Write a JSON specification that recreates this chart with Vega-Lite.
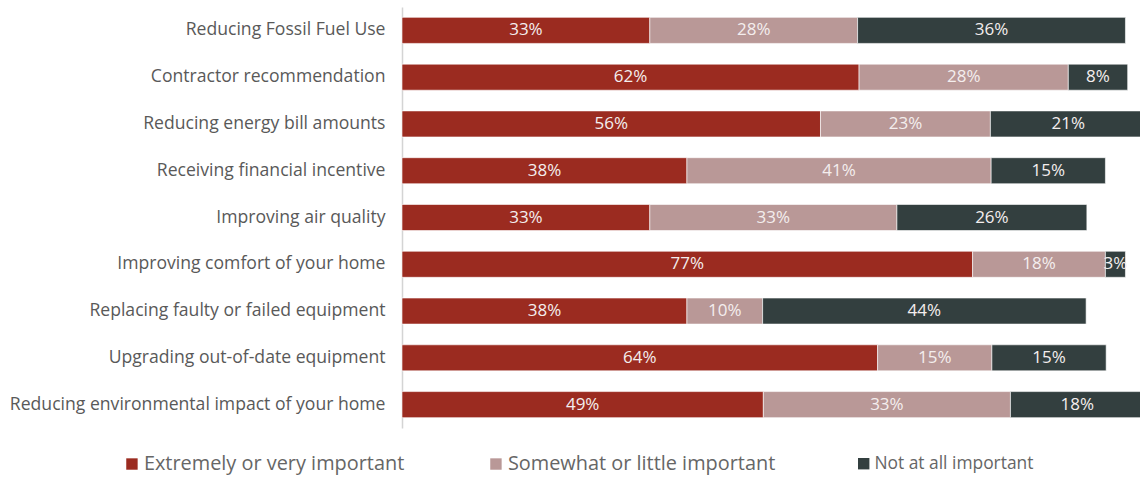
{
  "$schema": "https://vega.github.io/schema/vega-lite/v6.json",
  "autosize": {"type": "none"},
  "padding": {"left": 402, "top": 7, "right": 0, "bottom": 51},
  "width": 742,
  "height": 421,
  "config": {
    "font": "Open Sans",
    "view": {"stroke": null},
    "legend": {
      "title": null,
      "orient": "none",
      "direction": "horizontal",
      "symbolType": "square",
      "symbolSize": 130,
      "symbolStrokeWidth": 0,
      "labelColor": "#666666",
      "labelOffset": 2,
      "labelLimit": 400
    }
  },
  "data": {
    "values": [
      {"item": "Reducing Fossil Fuel Use", "level": "Extremely or very important", "rank": 1, "value": 0.334},
      {"item": "Reducing Fossil Fuel Use", "level": "Somewhat or little important", "rank": 2, "value": 0.280},
      {"item": "Reducing Fossil Fuel Use", "level": "Not at all important", "rank": 3, "value": 0.361},
      {"item": "Contractor recommendation", "level": "Extremely or very important", "rank": 1, "value": 0.616},
      {"item": "Contractor recommendation", "level": "Somewhat or little important", "rank": 2, "value": 0.282},
      {"item": "Contractor recommendation", "level": "Not at all important", "rank": 3, "value": 0.080},
      {"item": "Reducing energy bill amounts", "level": "Extremely or very important", "rank": 1, "value": 0.564},
      {"item": "Reducing energy bill amounts", "level": "Somewhat or little important", "rank": 2, "value": 0.229},
      {"item": "Reducing energy bill amounts", "level": "Not at all important", "rank": 3, "value": 0.210},
      {"item": "Receiving financial incentive", "level": "Extremely or very important", "rank": 1, "value": 0.384},
      {"item": "Receiving financial incentive", "level": "Somewhat or little important", "rank": 2, "value": 0.410},
      {"item": "Receiving financial incentive", "level": "Not at all important", "rank": 3, "value": 0.154},
      {"item": "Improving air quality", "level": "Extremely or very important", "rank": 1, "value": 0.334},
      {"item": "Improving air quality", "level": "Somewhat or little important", "rank": 2, "value": 0.333},
      {"item": "Improving air quality", "level": "Not at all important", "rank": 3, "value": 0.256},
      {"item": "Improving comfort of your home", "level": "Extremely or very important", "rank": 1, "value": 0.769},
      {"item": "Improving comfort of your home", "level": "Somewhat or little important", "rank": 2, "value": 0.179},
      {"item": "Improving comfort of your home", "level": "Not at all important", "rank": 3, "value": 0.027},
      {"item": "Replacing faulty or failed equipment", "level": "Extremely or very important", "rank": 1, "value": 0.384},
      {"item": "Replacing faulty or failed equipment", "level": "Somewhat or little important", "rank": 2, "value": 0.102},
      {"item": "Replacing faulty or failed equipment", "level": "Not at all important", "rank": 3, "value": 0.436},
      {"item": "Upgrading out-of-date equipment", "level": "Extremely or very important", "rank": 1, "value": 0.641},
      {"item": "Upgrading out-of-date equipment", "level": "Somewhat or little important", "rank": 2, "value": 0.154},
      {"item": "Upgrading out-of-date equipment", "level": "Not at all important", "rank": 3, "value": 0.154},
      {"item": "Reducing environmental impact of your home", "level": "Extremely or very important", "rank": 1, "value": 0.487},
      {"item": "Reducing environmental impact of your home", "level": "Somewhat or little important", "rank": 2, "value": 0.333},
      {"item": "Reducing environmental impact of your home", "level": "Not at all important", "rank": 3, "value": 0.180}
    ]
  },
  "transform": [
    {"stack": "value", "groupby": ["item"], "sort": [{"field": "rank", "order": "ascending"}], "as": ["v0", "v1"]}
  ],
  "encoding": {
    "y": {
      "field": "item",
      "type": "nominal",
      "sort": [
        "Reducing Fossil Fuel Use",
        "Contractor recommendation",
        "Reducing energy bill amounts",
        "Receiving financial incentive",
        "Improving air quality",
        "Improving comfort of your home",
        "Replacing faulty or failed equipment",
        "Upgrading out-of-date equipment",
        "Reducing environmental impact of your home"
      ],
      "scale": {"paddingInner": 0.443, "paddingOuter": 0.2215},
      "axis": {
        "title": null,
        "ticks": false,
        "domainColor": "#d4d4d4",
        "domainWidth": 1.5,
        "labelPadding": 17,
        "labelFontSize": 17.6,
        "labelColor": "#595959",
        "labelLimit": 500
      }
    },
    "x": {
      "field": "v0",
      "type": "quantitative",
      "scale": {"domain": [0, 1], "nice": false},
      "axis": null
    }
  },
  "layer": [
    {
      "transform": [{"filter": "datum.rank < 3"}],
      "mark": {"type": "bar", "stroke": "#ffffff", "strokeWidth": 0.6},
      "encoding": {
        "x2": {"field": "v1"},
        "color": {
          "field": "level",
          "type": "nominal",
          "scale": {
            "domain": ["Extremely or very important", "Somewhat or little important"],
            "range": ["#9b2b20", "#b99897"]
          },
          "legend": {
            "columns": 2,
            "legendX": -280,
            "legendY": 447,
            "labelFontSize": 19.9,
            "columnPadding": 81
          }
        }
      }
    },
    {
      "transform": [{"filter": "datum.rank == 3"}],
      "mark": {"type": "bar", "stroke": "#ffffff", "strokeWidth": 0.6},
      "encoding": {
        "x2": {"field": "v1"},
        "fill": {
          "field": "level",
          "type": "nominal",
          "scale": {
            "domain": ["Not at all important"],
            "range": ["#333f3f"]
          },
          "legend": {
            "columns": 1,
            "legendX": 453,
            "legendY": 448,
            "labelFontSize": 17.4
          }
        }
      }
    },
    {
      "mark": {
        "type": "text",
        "color": "#f4eeee",
        "fontSize": 17,
        "baseline": "middle",
        "align": "center",
        "dx": {"expr": "(scale('x', datum.v1) - scale('x', datum.v0)) / 2"}
      },
      "encoding": {
        "text": {"field": "value", "type": "quantitative", "format": ".0%"}
      }
    }
  ]
}
